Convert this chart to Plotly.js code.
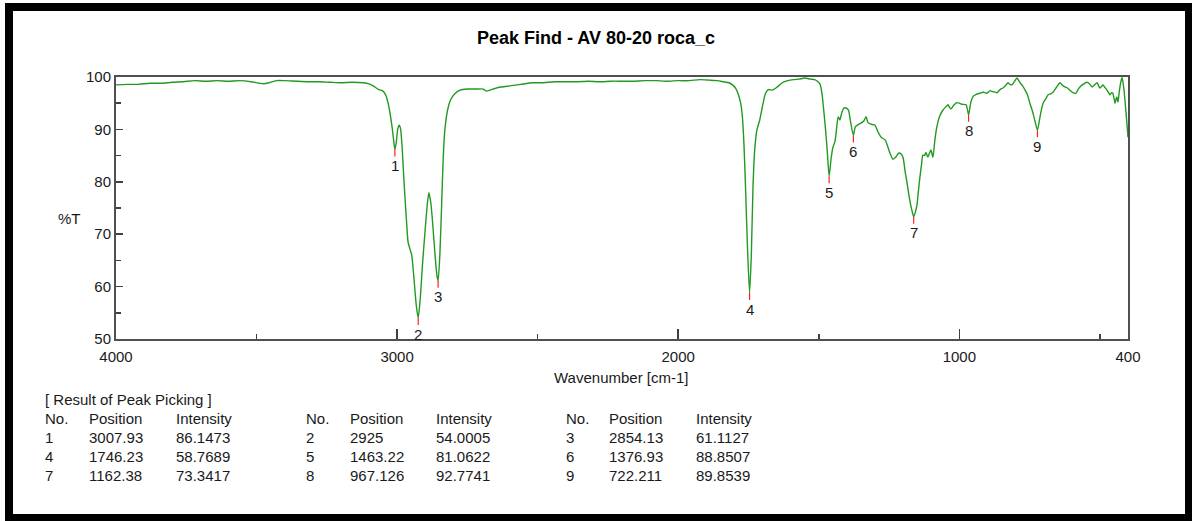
<!DOCTYPE html>
<html>
<head>
<meta charset="utf-8">
<script src="https://cdn.plot.ly/plotly-3.0.1.min.js"></script>
<style>
  html, body { margin: 0; padding: 0; background: #ffffff; }
  #chart { width: 1192px; height: 521px; }
</style>
</head>
<body>
<div id="chart"></div>
<script>
// ---- Spectrum ----
const wavenumber = [
  4000, 3960, 3920, 3880, 3840, 3800, 3760, 3720, 3680, 3640, 3600, 3560, 3520, 3490, 3475, 3455, 3430, 3400,
  3360, 3320, 3280, 3240, 3200, 3160, 3120, 3100, 3085, 3065, 3050, 3040, 3032, 3025, 3018, 3012, 3007.93,
  3003, 2998, 2993, 2988, 2982, 2978, 2972, 2966, 2961, 2955, 2948, 2940, 2932, 2925, 2918, 2910, 2900,
  2892, 2887, 2880, 2872, 2865, 2858, 2854.13, 2848, 2842, 2836, 2830, 2820, 2810, 2795, 2776, 2750, 2720,
  2694, 2682, 2665, 2640, 2600, 2560, 2517, 2480, 2440, 2400, 2360, 2320, 2280, 2240, 2200, 2160, 2120,
  2080, 2040, 2000, 1960, 1923, 1890, 1860, 1840, 1820, 1805, 1795, 1787, 1778, 1772, 1766, 1760, 1754,
  1746.23, 1740, 1734, 1728, 1720, 1710, 1700, 1690, 1680, 1665, 1650, 1630, 1610, 1590, 1570, 1550, 1530,
  1515, 1505, 1496, 1489, 1483, 1476, 1470, 1463.22, 1456, 1450, 1442, 1436, 1431, 1425, 1418, 1410, 1400,
  1394, 1387, 1376.93, 1370, 1360, 1350, 1340, 1332, 1325, 1315, 1300, 1290, 1278, 1264, 1255, 1247, 1236,
  1225, 1215, 1207, 1200, 1193, 1186, 1178, 1169, 1162.38, 1156, 1151, 1145, 1140, 1134, 1130, 1124, 1119,
  1112, 1106, 1101, 1094, 1087, 1080, 1070, 1058, 1048, 1040, 1035, 1030, 1020, 1009, 1000, 991, 976,
  967.126, 959, 951, 940, 927, 915, 902, 891, 880, 866, 855, 845, 835, 827, 820, 813, 803, 795, 784, 775,
  766, 757, 749, 740, 731, 722.211, 713, 707, 702, 693, 684, 675, 667, 655, 642, 633, 624, 615, 607, 596,
  585, 578, 571, 560, 546, 537, 528, 519, 510, 505, 500, 494, 489, 482, 475, 469, 464, 459, 454, 450, 446,
  443, 440, 436, 432, 428, 425, 421, 418, 414, 411, 408, 404, 400
];
const transmittance = [
  98.5, 98.6, 98.6, 98.8, 98.8, 99.0, 99.1, 99.3, 99.2, 99.3, 99.2, 99.3, 99.1, 98.8, 98.7, 98.9, 99.3, 99.3,
  99.2, 99.1, 99.1, 99.0, 98.9, 99.0, 98.9, 98.7, 98.3, 97.6, 97.3, 96.5, 95.0, 93.0, 90.5, 87.8, 86.1473,
  87.5, 90.0, 90.8, 90.2, 86.5, 82.5, 77.0, 72.0, 68.5, 67.3, 66.0, 61.5, 56.5, 54.0005, 57.5, 64.0, 71.0,
  76.0, 77.9, 76.0, 71.0, 66.0, 62.0, 61.1127, 66.0, 75.0, 84.5, 90.0, 93.8, 95.6, 96.8, 97.5, 97.7, 97.7,
  97.7, 97.3, 97.6, 98.0, 98.3, 98.6, 98.9, 98.9, 99.1, 99.1, 99.1, 99.2, 99.1, 99.2, 99.2, 99.2, 99.3,
  99.3, 99.2, 99.3, 99.3, 99.5, 99.4, 99.3, 99.1, 98.9, 98.4, 97.8, 96.8, 95.0, 92.5, 87.0, 78.0, 68.0,
  58.7689, 66.0, 79.0, 86.0, 89.9, 91.8, 94.5, 96.8, 97.6, 97.5, 98.0, 98.9, 99.3, 99.5, 99.6, 99.8, 99.6,
  99.5, 99.2, 98.7, 97.0, 94.0, 90.0, 86.0, 81.0622, 84.5, 86.5, 87.8, 90.5, 92.4, 91.8, 93.2, 94.1, 94.0,
  93.6, 91.5, 88.8507, 90.5, 90.9, 91.2, 91.6, 92.4, 91.3, 91.0, 90.8, 89.6, 88.5, 88.0, 86.8, 85.5, 84.3,
  84.8, 85.5, 85.3, 84.6, 82.0, 79.8, 77.0, 74.6, 73.3417, 74.3, 75.5, 78.5, 81.0, 83.5, 85.1, 85.0, 85.6,
  84.7, 85.5, 86.1, 84.7, 88.0, 90.5, 92.5, 93.7, 94.3, 94.7, 94.2, 93.9, 94.6, 95.1, 95.0, 94.8, 94.7,
  92.7741, 95.2, 96.3, 96.7, 96.9, 97.1, 96.9, 97.4, 97.2, 97.0, 97.6, 97.9, 98.4, 98.9, 98.6, 98.5, 99.2, 99.8, 98.9, 98.3,
  97.5, 96.5, 95.0, 93.5, 91.6, 89.8539, 92.4, 94.0, 95.0, 95.8, 96.6, 96.8, 97.1, 98.0, 98.9, 98.4, 98.1, 97.9, 97.5, 97.0,
  96.9, 97.6, 98.1, 98.6, 99.0, 98.7, 98.1, 98.5, 98.9, 98.4, 97.9, 98.2, 98.5, 98.0, 97.5, 97.0, 96.6, 97.0, 96.9, 96.0, 95.0,
  95.7, 96.2, 95.2, 96.8, 98.3, 99.2, 99.9, 99.0, 97.5, 95.6, 93.8, 91.2, 88.5
];

// ---- Peak picking result ----
const peakNo = [1, 2, 3, 4, 5, 6, 7, 8, 9];
const peakPos = [3007.93, 2925, 2854.13, 1746.23, 1463.22, 1376.93, 1162.38, 967.126, 722.211];
const peakInt = [86.1473, 54.0005, 61.1127, 58.7689, 81.0622, 88.8507, 73.3417, 92.7741, 89.8539];

// ---- Axis ticks ----
const xTickVals = [4000, 3000, 2000, 1000, 400];
const xMinorVals = [3500, 2500, 1500, 500];
const yTickVals = [50, 60, 70, 80, 90, 100];
const yMinorVals = [55, 65, 75, 85, 95];

// ---- Texts ----
const chartTitle = 'Peak Find - AV 80-20 roca_c';
const xTitle = 'Wavenumber [cm-1]';
const yTitle = '%T';
const tableTitle = '[ Result of Peak Picking ]';
const tableHeaders = ['No.', 'Position', 'Intensity'];

// ---- Geometry helpers (pixel -> paper) ----
const W = 1192, H = 521;
const PL = 116, PR = 1128, PT = 77, PB = 339;
const px = v => (v - PL) / (PR - PL);
const py = v => (PB - v) / (PB - PT);

const FONT = 'Liberation Sans, Arial, Helvetica, sans-serif';
const TXT = '#1a1a1a';

const fmt = v => String(Number(v.toPrecision(6)));

const annotations = [];

// peak labels with red tick
peakNo.forEach((n, i) => {
  annotations.push({
    x: peakPos[i], y: peakInt[i], xref: 'x', yref: 'y',
    text: String(n), showarrow: true, arrowhead: 0, arrowwidth: 1.2,
    arrowcolor: '#ff2020', ax: 0, ay: 16, standoff: 0, borderpad: 0,
    font: { family: FONT, size: 15, color: TXT }
  });
});

// axis titles
annotations.push({
  x: px(621), y: py(377), xref: 'paper', yref: 'paper', text: xTitle, showarrow: false,
  xanchor: 'center', yanchor: 'middle', font: { family: FONT, size: 15, color: TXT }
});
annotations.push({
  x: px(69), y: py(218), xref: 'paper', yref: 'paper', text: yTitle, showarrow: false,
  xanchor: 'center', yanchor: 'middle', font: { family: FONT, size: 15, color: TXT }
});

// table
const colX = [[43, 87, 174], [304, 348, 434], [564, 607, 694]];
const rowY0 = 437, rowDY = 19;
annotations.push({
  x: px(43), y: py(399), xref: 'paper', yref: 'paper', text: tableTitle, showarrow: false,
  xanchor: 'left', yanchor: 'middle', font: { family: FONT, size: 15, color: TXT }
});
colX.forEach(cols => {
  tableHeaders.forEach((h, j) => {
    annotations.push({
      x: px(cols[j]), y: py(418), xref: 'paper', yref: 'paper', text: h, showarrow: false,
      xanchor: 'left', yanchor: 'middle', font: { family: FONT, size: 15, color: TXT }
    });
  });
});
peakNo.forEach((n, i) => {
  const g = i % 3, r = Math.floor(i / 3);
  const yy = py(rowY0 + r * rowDY);
  const vals = [String(n), fmt(peakPos[i]), fmt(peakInt[i])];
  vals.forEach((t, j) => {
    annotations.push({
      x: px(colX[g][j]), y: yy, xref: 'paper', yref: 'paper', text: t, showarrow: false,
      xanchor: 'left', yanchor: 'middle', font: { family: FONT, size: 15, color: TXT }
    });
  });
});

const shapes = [
  { type: 'rect', xref: 'paper', yref: 'paper', layer: 'above',
    x0: px(9), x1: px(1189), y0: py(518), y1: py(7),
    line: { color: '#000000', width: 8 }, fillcolor: 'rgba(0,0,0,0)' }
];

const trace = {
  type: 'scatter', mode: 'lines',
  x: wavenumber, y: transmittance,
  line: { color: '#229922', width: 1.4, shape: 'spline', smoothing: 0.6 },
  hoverinfo: 'skip', showlegend: false
};

const axisCommon = {
  showline: true, linecolor: '#505050', linewidth: 2, mirror: true,
  ticks: 'inside', tickcolor: '#404040', tickwidth: 1.5,
  showgrid: false, zeroline: false,
  tickfont: { family: FONT, size: 15, color: TXT }
};

const layout = {
  width: W, height: H,
  margin: { l: PL, r: W - PR, t: PT, b: H - PB, pad: 0 },
  paper_bgcolor: '#ffffff', plot_bgcolor: '#ffffff',
  font: { family: FONT, color: TXT },
  title: {
    text: '<b>' + chartTitle + '</b>', x: 0.5, xref: 'container', xanchor: 'center',
    y: 1 - 38 / H, yref: 'container', yanchor: 'middle',
    font: { family: FONT, size: 18, color: '#000000' }
  },
  xaxis: Object.assign({}, axisCommon, {
    range: [4000, 400], tickmode: 'array', tickvals: xTickVals,
    ticktext: xTickVals.map(String), ticklen: 10, ticklabelstandoff: 3,
    minor: { tickmode: 'array', tickvals: xMinorVals, ticks: 'inside', ticklen: 5, tickcolor: '#404040', tickwidth: 1.5 }
  }),
  yaxis: Object.assign({}, axisCommon, {
    range: [50, 100], tickmode: 'array', tickvals: yTickVals,
    ticktext: yTickVals.map(String), ticklen: 7,
    minor: { tickmode: 'array', tickvals: yMinorVals, ticks: 'inside', ticklen: 5, tickcolor: '#404040', tickwidth: 1.5 }
  }),
  annotations: annotations,
  shapes: shapes,
  hovermode: false
};

Plotly.newPlot('chart', [trace], layout, { displayModeBar: false, staticPlot: true });
</script>
</body>
</html>
